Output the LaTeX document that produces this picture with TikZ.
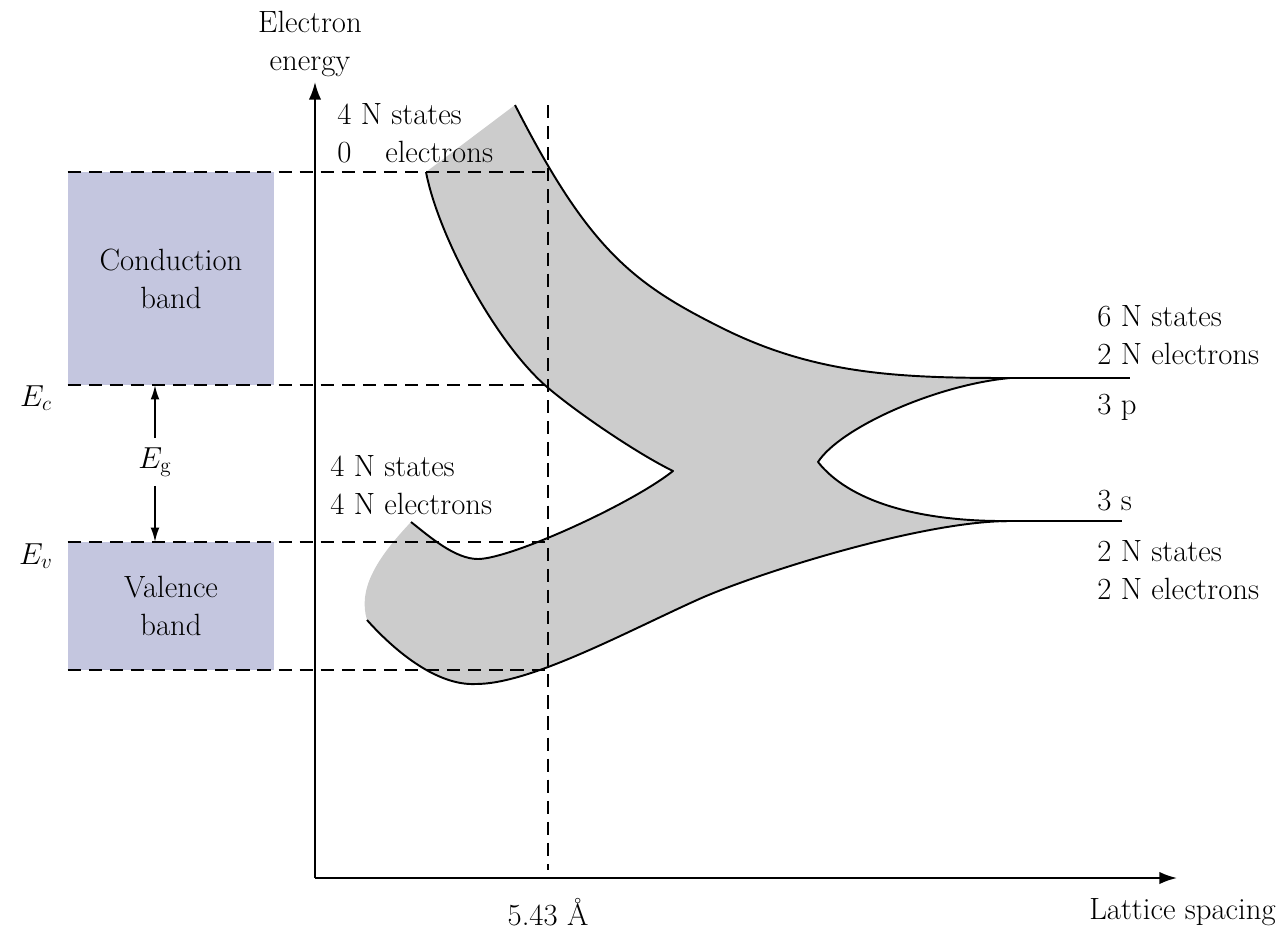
\documentclass[tikz,border=0pt]{standalone}
\usetikzlibrary{arrows.meta}
\definecolor{BandLilac}{RGB}{196,198,223}
\definecolor{SplitGray}{RGB}{204,204,204}
% band edges, each given in the direction the shaded outline runs
\newcommand{\edgeTop}{.. controls (588,248) and (632,283) .. (720,327) .. controls (815,375) and (900,378) .. (1010,378)}
\newcommand{\edgeInUp}{.. controls (935,385) and (840,428) .. (818,462)}
\newcommand{\edgeInDown}{.. controls (848,500) and (915,522) .. (1010,521)}
\newcommand{\edgeLow}{.. controls (920,521) and (752,575) .. (697,600) .. controls (624,633) and (530,684) .. (476,684) .. controls (435,686) and (392,648) .. (367,620)}
\newcommand{\edgeSide}{.. controls (358,590) and (375,560) .. (411,522)}
\newcommand{\edgeMidLow}{.. controls (430,537) and (455,559) .. (478,559) .. controls (510,559) and (630,505) .. (673,471)}
\newcommand{\edgeMidUp}{.. controls (640,455) and (580,415) .. (547,387) .. controls (495,342) and (438,235) .. (426,172)}

\begin{document}
\begin{tikzpicture}[x=0.02cm, y=-0.02cm,
  every node/.style={font=\fontsize{17.5}{21.6}\selectfont, inner sep=0pt},
  bandbox/.style={fill=BandLilac, minimum width=4.12cm, align=center},
  guide/.style={dash pattern=on 7.5pt off 4.5pt, line width=1.1pt},
  bandline/.style={line width=1.1pt, line join=round},
  axis/.style={line width=1.1pt, -{Latex[length=10pt,width=7pt]}},
  gaparrow/.style={line width=0.9pt, -{Latex[length=8pt,width=5pt]}}]
  \useasboundingbox (0,0) rectangle (1278,930);

  % axes
  \coordinate (origin) at (315,878);
  \coordinate (ytip) at (315,82);
  \coordinate (xtip) at (1177,878);
  \coordinate (spacingtop) at (548,105);
  \coordinate (spacingbot) at (548,870);
  \draw[axis] (origin) -- (ytip);
  \draw[axis] (origin) -- (xtip);
  \node[align=center] (ylabel) at (310,44) {Electron\\energy};
  \node (spacingval) at (548,912) {5.43 \AA};
  \node[anchor=east] (xlabel) at (1276,912) {Lattice spacing};

  % bands of the solid
  \node[bandbox, minimum height=4.26cm] (cband) at (171,278.5) {Conduction\\band};
  \node[bandbox, minimum height=2.56cm] (vband) at (171,606) {Valence\\band};
  \node (ec) at (36,398) {$E_c$};
  \node (ev) at (36,556) {$E_v$};
  \node[inner sep=5pt] (eg) at (155,462) {$E_{\mathrm{g}}$};
  \draw[gaparrow] (eg.north) -- (eg.north |- cband.south);
  \draw[gaparrow] (eg.south) -- (eg.south |- vband.north);

  % splitting of the 3s and 3p levels
  \fill[SplitGray] (426,172) -- (515,105) \edgeTop \edgeInUp -- (818,462) \edgeInDown \edgeLow \edgeSide \edgeMidLow -- (673,471) \edgeMidUp -- cycle;
  \draw[bandline] (515,105) \edgeTop;
  \draw[bandline] (1010,378) \edgeInUp -- (818,462) \edgeInDown;
  \draw[bandline] (1010,521) \edgeLow;
  \draw[bandline] (411,522) \edgeMidLow -- (673,471) \edgeMidUp;
  \coordinate (p3) at (1000,378);
  \coordinate (s3) at (1000,521);
  \draw[bandline] (p3) -- (1130,378);
  \draw[bandline] (s3) -- (1122,521);

  % guide lines
  \draw[guide] (spacingtop) -- (spacingbot);
  \draw[guide] (cband.north west) -- (cband.north west -| spacingtop);
  \draw[guide] (cband.south west) -- (cband.south west -| spacingtop);
  \draw[guide] (vband.north west) -- (vband.north west -| spacingtop);
  \draw[guide] (vband.south west) -- (vband.south west -| spacingtop);

  % state counts
  \node[anchor=west, align=left] (topcount) at (337,133) {4 N states\\0\hspace{1.1em}electrons};
  \node[anchor=west, align=left] (midcount) at (330,485) {4 N states\\4 N electrons};
  \node[anchor=west, align=left] (pcount) at (1097,335) {6 N states\\2 N electrons};
  \node[anchor=base west] (plevel) at (1097,414) {3 p};
  \node[anchor=base west] (slevel) at (1097,510) {3 s};
  \node[anchor=west, align=left] (scount) at (1097,570) {2 N states\\2 N electrons};
\end{tikzpicture}
\end{document}
